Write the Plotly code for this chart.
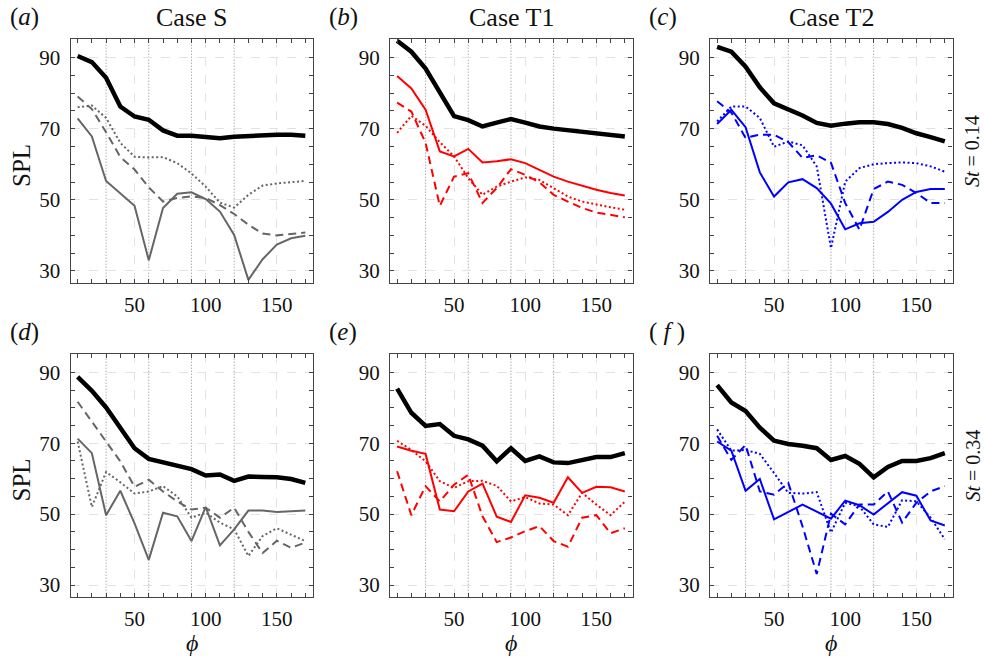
import plotly.graph_objects as go

# Observer angle (degrees)
phi = [10, 20, 30, 40, 50, 60, 70, 80, 90, 100, 110, 120, 130, 140, 150, 160, 170]

# ---- St = 0.14 ----
S_014_total = [90.4, 88.7, 84.3, 76.2, 73.4, 72.5, 69.5, 68.0, 68.0, 67.8, 67.3, 67.7, 68.0, 68.3, 68.3, 68.3, 68.0]
S_014_m0 = [72.9, 67.8, 55.3, 51.9, 48.3, 33.0, 47.7, 51.7, 52.1, 50.2, 46.7, 40.1, 27.5, 33.3, 37.4, 39.2, 39.9]
S_014_m1 = [79.0, 75.5, 69.0, 62.0, 58.5, 53.5, 49.5, 50.5, 51.0, 50.5, 48.5, 46.0, 43.0, 40.5, 40.0, 40.3, 40.8]
S_014_m2 = [76.0, 76.5, 73.0, 66.0, 62.1, 61.9, 62.0, 60.3, 57.4, 53.7, 49.2, 47.8, 51.4, 54.0, 54.6, 55.0, 55.3]

T1_014_total = [94.7, 91.6, 86.9, 79.9, 73.5, 72.4, 70.6, 71.7, 72.7, 71.7, 70.6, 70.0, 69.5, 69.1, 68.6, 68.2, 67.8]
T1_014_m0 = [84.8, 81.3, 75.3, 63.6, 62.2, 64.3, 60.5, 60.8, 61.4, 60.3, 58.4, 56.5, 55.1, 53.9, 52.8, 51.9, 51.2]
T1_014_m1 = [77.3, 74.8, 66.0, 48.3, 56.5, 57.5, 49.1, 53.3, 58.6, 57.0, 54.9, 51.4, 49.5, 47.7, 46.4, 45.8, 45.1]
T1_014_m2 = [68.8, 73.6, 70.8, 66.2, 62.2, 56.1, 51.4, 53.7, 55.1, 56.3, 55.6, 53.3, 50.9, 49.5, 48.6, 47.9, 47.2]

T2_014_total = [93.0, 91.6, 87.4, 81.6, 77.1, 75.5, 73.7, 71.6, 70.8, 71.4, 71.8, 71.8, 71.3, 70.2, 68.7, 67.6, 66.4]
T2_014_m0 = [71.3, 75.3, 70.4, 57.7, 50.9, 54.9, 55.8, 53.3, 48.9, 41.7, 43.4, 43.8, 46.6, 50.0, 52.2, 53.0, 53.0]
T2_014_m1 = [77.7, 74.5, 67.4, 68.3, 68.3, 66.2, 61.8, 62.5, 60.4, 49.1, 41.6, 53.0, 55.1, 54.2, 51.9, 49.1, 49.1]
T2_014_m2 = [72.0, 76.2, 76.2, 73.0, 64.9, 66.4, 65.3, 59.4, 36.4, 55.1, 58.9, 60.0, 60.3, 60.5, 60.3, 59.4, 57.9]

# ---- St = 0.34 ----
S_034_total = [88.7, 84.8, 80.1, 74.2, 68.6, 65.6, 64.7, 63.9, 62.7, 60.9, 61.2, 59.4, 60.6, 60.5, 60.4, 59.9, 58.8]
S_034_m0 = [71.3, 67.2, 49.7, 56.6, 47.4, 37.1, 50.4, 49.4, 42.4, 52.0, 41.2, 45.7, 51.0, 51.0, 50.6, 50.7, 51.0]
S_034_m1 = [81.7, 76.1, 70.5, 64.9, 57.7, 59.7, 56.4, 53.6, 51.3, 51.8, 49.0, 51.8, 45.0, 39.0, 42.5, 40.5, 42.0]
S_034_m2 = [70.5, 52.0, 61.9, 59.0, 55.8, 56.4, 57.9, 55.0, 49.0, 50.4, 47.6, 45.7, 38.2, 43.8, 46.0, 44.3, 42.4]

T1_034_total = [85.4, 78.6, 74.9, 75.4, 72.1, 71.1, 69.3, 64.9, 68.6, 65.0, 66.3, 64.6, 64.4, 65.1, 66.1, 66.1, 67.2]
T1_034_m0 = [69.1, 67.9, 67.0, 51.3, 50.8, 56.4, 58.6, 49.3, 47.8, 55.3, 54.6, 53.2, 60.4, 56.0, 57.7, 57.6, 56.4]
T1_034_m1 = [62.1, 49.7, 57.9, 53.6, 58.3, 61.1, 49.4, 42.1, 43.4, 45.2, 46.6, 42.4, 40.8, 49.0, 49.7, 44.6, 46.0]
T1_034_m2 = [70.7, 68.1, 64.9, 59.3, 57.4, 59.3, 59.4, 58.0, 53.6, 54.8, 53.0, 52.7, 49.7, 56.0, 52.7, 49.7, 53.5]

T2_034_total = [86.4, 81.5, 79.1, 74.4, 70.7, 69.8, 69.3, 68.6, 65.3, 66.4, 64.2, 60.4, 63.3, 65.0, 65.0, 65.8, 67.2]
T2_034_m0 = [70.5, 67.9, 56.6, 59.9, 48.5, 50.7, 52.7, 50.7, 48.7, 53.8, 52.5, 49.9, 53.0, 56.2, 55.2, 48.2, 46.8]
T2_034_m1 = [72.1, 65.3, 69.5, 56.4, 55.5, 58.8, 46.6, 33.1, 50.1, 47.1, 52.7, 52.7, 56.4, 47.6, 53.2, 56.4, 57.9]
T2_034_m2 = [73.9, 67.9, 68.1, 67.0, 61.6, 56.0, 55.8, 56.2, 44.8, 53.2, 52.2, 47.1, 46.4, 53.9, 53.6, 49.0, 42.9]

case_titles = ["Case S", "Case T1", "Case T2"]
panel_tags = ["(<i>a</i>)", "(<i>b</i>)", "(<i>c</i>)", "(<i>d</i>)", "(<i>e</i>)", "( <i>f</i> )"]
st_labels = ["<i>St</i> = 0.14", "<i>St</i> = 0.34"]
case_colors = ["#666666", "#ff0000", "#0000ff"]
ref_angles = [30, 60, 90, 120]

panels = [
    [S_014_total, S_014_m0, S_014_m1, S_014_m2],
    [T1_014_total, T1_014_m0, T1_014_m1, T1_014_m2],
    [T2_014_total, T2_014_m0, T2_014_m1, T2_014_m2],
    [S_034_total, S_034_m0, S_034_m1, S_034_m2],
    [T1_034_total, T1_034_m0, T1_034_m1, T1_034_m2],
    [T2_034_total, T2_034_m0, T2_034_m1, T2_034_m2],
]

W, H = 984, 658
FONT = "Liberation Serif"
col_px = [(70.5, 313.0), (390.0, 632.5), (710.0, 952.5)]
row_px = [(39.3, 282.7), (354.3, 596.7)]

fig = go.Figure()
layout = dict(
    width=W, height=H,
    margin=dict(l=0, r=0, t=0, b=0),
    paper_bgcolor="white", plot_bgcolor="white",
    showlegend=False,
    font=dict(family=FONT, size=20, color="#111111"),
)
annotations = []
shapes = []

for i, series in enumerate(panels):
    r, c = divmod(i, 3)
    n = i + 1
    xa = "xaxis" if n == 1 else f"xaxis{n}"
    ya = "yaxis" if n == 1 else f"yaxis{n}"
    xr = "x" if n == 1 else f"x{n}"
    yr = "y" if n == 1 else f"y{n}"
    x0, x1 = col_px[c]
    yt, yb = row_px[r]
    common = dict(
        showline=True, linecolor="#444444", linewidth=1.3, mirror="allticks",
        ticks="inside", ticklen=4, tickcolor="#444444", tickwidth=1,
        showgrid=True, gridcolor="#e2e2e2", griddash="dash", gridwidth=1,
        zeroline=False,
        tickfont=dict(family=FONT, size=21, color="#111111"),
    )
    layout[xa] = dict(
        common, domain=[x0 / W, x1 / W], anchor=yr,
        range=[5, 175.4], tick0=0, dtick=50,
        minor=dict(ticks="inside", ticklen=4, dtick=10, tick0=0, tickcolor="#444444", showgrid=False),
        ticklabelstandoff=3,
    )
    layout[ya] = dict(
        common, domain=[1 - yb / H, 1 - yt / H], anchor=xr,
        range=[26.7, 95.1], tick0=30, dtick=20,
        minor=dict(ticks="inside", ticklen=4, dtick=5, tick0=0, tickcolor="#444444", showgrid=False),
        ticklabelstandoff=5,
    )
    for a in ref_angles:
        shapes.append(dict(type="line", xref=xr, yref=f"{yr} domain", x0=a, x1=a, y0=0, y1=1,
                           line=dict(color="#8a8a8a", width=1, dash="1px,2px"), layer="below"))

    total, m0, m1, m2 = series
    col = case_colors[c]
    fig.add_trace(go.Scatter(x=phi, y=m2, mode="lines", xaxis=xr, yaxis=yr,
                             line=dict(color=col, width=2, dash="2px,2.5px")))
    fig.add_trace(go.Scatter(x=phi, y=m1, mode="lines", xaxis=xr, yaxis=yr,
                             line=dict(color=col, width=2, dash="8px,5px")))
    fig.add_trace(go.Scatter(x=phi, y=m0, mode="lines", xaxis=xr, yaxis=yr,
                             line=dict(color=col, width=2)))
    fig.add_trace(go.Scatter(x=phi, y=total, mode="lines", xaxis=xr, yaxis=yr,
                             line=dict(color="black", width=4.5)))

    # panel tag
    annotations.append(dict(text=panel_tags[i], xref="paper", yref="paper",
                            x=(x0 - 63) / W, y=1 - (yt - 22) / H, xanchor="left", yanchor="middle",
                            showarrow=False, font=dict(family=FONT, size=25, color="#111111")))
    if r == 0:
        annotations.append(dict(text=case_titles[c], xref="paper", yref="paper",
                                x=(x0 + x1) / 2 / W, y=1 - 18 / H, xanchor="center", yanchor="middle",
                                showarrow=False, font=dict(family=FONT, size=26, color="#111111")))
    else:
        annotations.append(dict(text="<i>ϕ</i>", xref="paper", yref="paper",
                                x=(x0 + x1) / 2 / W, y=1 - 643 / H, xanchor="center", yanchor="middle",
                                showarrow=False, font=dict(family=FONT, size=24, color="#111111")))
    if c == 0:
        annotations.append(dict(text="SPL", xref="paper", yref="paper", textangle=-90,
                                x=21 / W, y=1 - ((yt + yb) / 2 + 5) / H, xanchor="center", yanchor="middle",
                                showarrow=False, font=dict(family=FONT, size=25, color="#111111")))
    if c == 2:
        annotations.append(dict(text=st_labels[r], xref="paper", yref="paper", textangle=-90,
                                x=972 / W, y=1 - ((yt + yb) / 2 - 10) / H, xanchor="center", yanchor="middle",
                                showarrow=False, font=dict(family=FONT, size=20, color="#111111")))

layout["annotations"] = annotations
layout["shapes"] = shapes
fig.update_layout(**layout)
fig.write_html("out.html")
